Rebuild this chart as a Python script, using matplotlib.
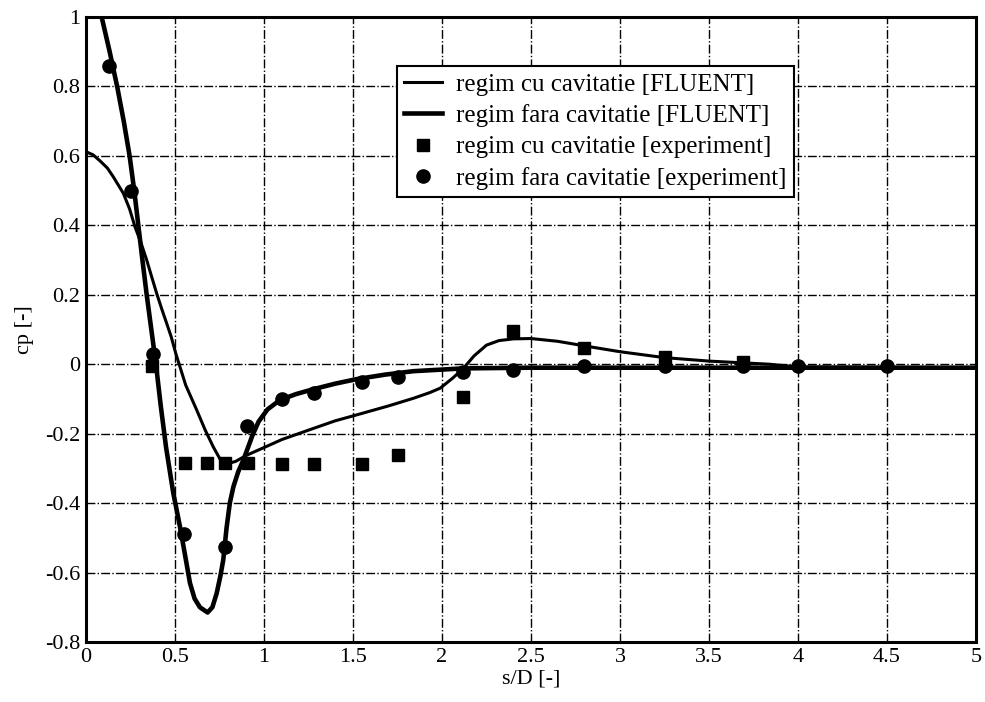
import matplotlib.pyplot as plt

plt.rcParams['font.family'] = ['Liberation Serif', 'DejaVu Serif']

# regim fara cavitatie [FLUENT]
fara_x = [0.088, 0.133, 0.175, 0.212, 0.245, 0.271, 0.294, 0.317, 0.341, 0.367,
          0.393, 0.42, 0.45, 0.49, 0.528, 0.56, 0.584, 0.61, 0.64, 0.683,
          0.71, 0.734, 0.755, 0.771, 0.79, 0.808, 0.828, 0.855, 0.884, 0.91,
          0.935, 0.97, 1.02, 1.09, 1.18, 1.277, 1.40, 1.52, 1.68, 1.84,
          2.12, 2.5, 3.0, 4.0, 5.0]
fara_y = [1.0, 0.90, 0.80, 0.70, 0.60, 0.50, 0.40, 0.30, 0.20, 0.10,
          0.0, -0.12, -0.24, -0.37, -0.468, -0.56, -0.63, -0.675, -0.70, -0.715,
          -0.70, -0.66, -0.61, -0.564, -0.47, -0.40, -0.353, -0.31, -0.276, -0.24,
          -0.205, -0.165, -0.13, -0.103, -0.086, -0.072, -0.056, -0.043, -0.03, -0.02,
          -0.012, -0.01, -0.01, -0.01, -0.01]

# regim cu cavitatie [FLUENT]
cu_x = [0.0, 0.04, 0.08, 0.12, 0.153, 0.21, 0.245, 0.275, 0.31, 0.341,
        0.37, 0.397, 0.425, 0.453, 0.478, 0.505, 0.56, 0.622, 0.67, 0.715,
        0.771, 0.84, 0.903, 1.0, 1.1, 1.277, 1.4, 1.52, 1.7, 1.84,
        1.93, 1.99, 2.06, 2.12, 2.18, 2.25, 2.32, 2.40, 2.5, 2.65,
        2.81, 3.0, 3.25, 3.5, 3.84, 4.0, 5.0]
cu_y = [0.612, 0.603, 0.585, 0.565, 0.54, 0.492, 0.447, 0.396, 0.348, 0.30,
        0.25, 0.204, 0.16, 0.118, 0.08, 0.03, -0.06, -0.132, -0.19, -0.238,
        -0.29, -0.28, -0.262, -0.24, -0.217, -0.185, -0.163, -0.146, -0.12, -0.098,
        -0.082, -0.069, -0.04, -0.012, 0.024, 0.055, 0.068, 0.073, 0.074, 0.066,
        0.052, 0.036, 0.019, 0.009, 0.0, -0.008, -0.01]

# regim cu cavitatie [experiment]
sq_x = [0.369, 0.556, 0.68, 0.781, 0.912, 1.099, 1.283, 1.549, 1.755, 2.12,
        2.40, 2.80, 3.25, 3.69]
sq_y = [-0.005, -0.285, -0.285, -0.285, -0.285, -0.288, -0.288, -0.288, -0.262, -0.095,
        0.097, 0.048, 0.02, 0.005]

# regim fara cavitatie [experiment]
ci_x = [0.131, 0.251, 0.378, 0.552, 0.781, 0.903, 1.099, 1.283, 1.552, 1.755,
        2.12, 2.40, 2.80, 3.25, 3.69, 4.0, 4.5]
ci_y = [0.86, 0.50, 0.03, -0.49, -0.526, -0.178, -0.101, -0.082, -0.05, -0.038,
        -0.022, -0.017, -0.005, -0.005, -0.005, -0.005, -0.005]

fig = plt.figure(figsize=(9.85, 7.02), dpi=100)
ax = fig.add_axes([86 / 985, 1 - 642 / 702, 890 / 985, 625 / 702])

ax.plot(cu_x, cu_y, color='black', lw=2.2, label='regim cu cavitatie [FLUENT]')
ax.plot(fara_x, fara_y, color='black', lw=3.3, label='regim fara cavitatie [FLUENT]')
ax.plot(sq_x, sq_y, 's', color='black', ms=8.5, label='regim cu cavitatie [experiment]')
ax.plot(ci_x, ci_y, 'o', color='black', ms=9.5, label='regim fara cavitatie [experiment]')

ax.set_xlim(0, 5)
ax.set_ylim(-0.8, 1)
ax.set_xticks([0, 0.5, 1, 1.5, 2, 2.5, 3, 3.5, 4, 4.5, 5])
ax.set_xticklabels(['0', '0.5', '1', '1.5', '2', '2.5', '3', '3.5', '4', '4.5', '5'])
ax.set_yticks([-0.8, -0.6, -0.4, -0.2, 0, 0.2, 0.4, 0.6, 0.8, 1])
ax.set_yticklabels(['-0.8', '-0.6', '-0.4', '-0.2', '0', '0.2', '0.4', '0.6', '0.8', '1'])
ax.tick_params(length=0, labelsize=16, pad=4)
ax.grid(True, color='black', linestyle='-.', linewidth=1.0)
for s in ax.spines.values():
    s.set_linewidth(2.2)

ax.set_xlabel('s/D [-]', fontsize=16, labelpad=2)
ax.set_ylabel('cp [-]', fontsize=16, labelpad=8)

leg = ax.legend(loc='upper left', bbox_to_anchor=((397 - 86) / 890, 1 - (66 - 17) / 625),
                fontsize=18, frameon=True, fancybox=False, framealpha=1,
                edgecolor='black', handlelength=1.5, handletextpad=0.6,
                labelspacing=0.35, borderpad=0.28, borderaxespad=0)
leg.get_frame().set_linewidth(1.5)

plt.savefig('out.png', dpi=100)
